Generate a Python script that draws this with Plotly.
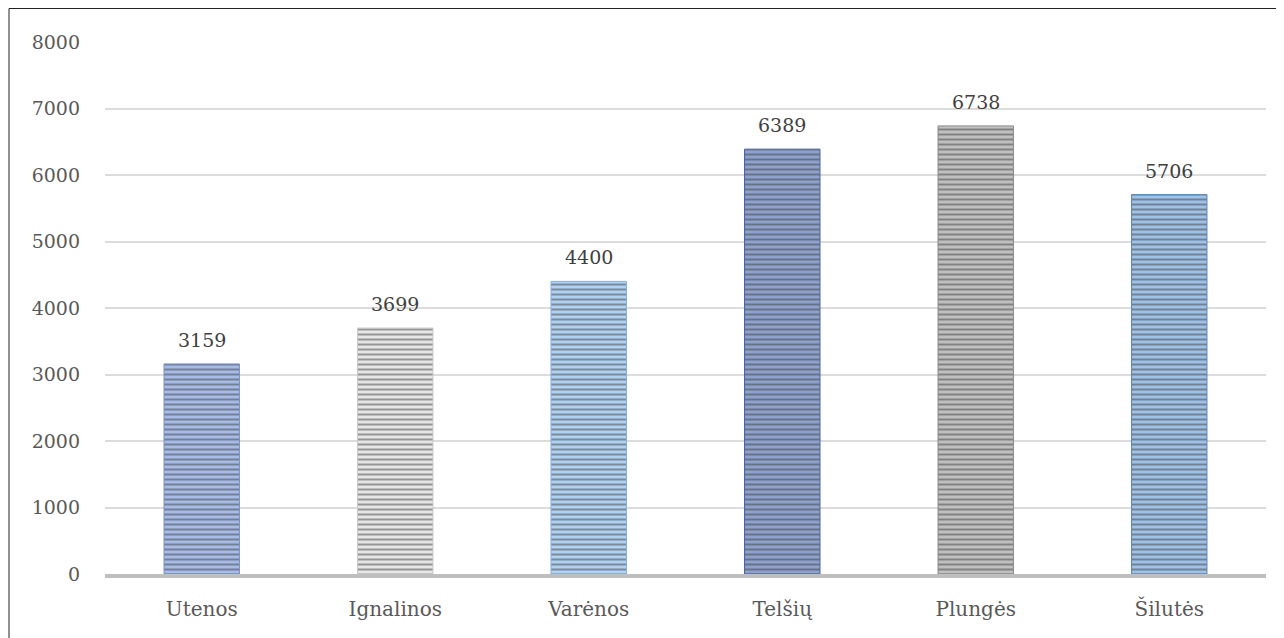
import plotly.graph_objects as go

districts = ["Utenos", "Ignalinos", "Varėnos", "Telšių", "Plungės", "Šilutės"]
counts = [3159, 3699, 4400, 6389, 6738, 5706]

bar_bg = ["#a6bbe6", "#e6e6e6", "#b0d2f2", "#8ea2cc", "#c0c0c0", "#9fc1e5"]
bar_fg = ["#7691cd", "#c9c9c9", "#84aedd", "#4a639a", "#8a8a8a", "#5a87bb"]

# the page body adds 8px around the figure
W, H = 1276, 630
L, R, T, B = 97, 18, 34, 64

fig = go.Figure()
fig.add_trace(go.Bar(
    x=districts, y=counts,
    marker=dict(
        color=bar_bg,
        line=dict(width=1, color=bar_fg),
        pattern=dict(shape="-", size=5, solidity=0.4,
                     fillmode="overlay", fgcolor=bar_fg),
    ),
    hoverinfo="x+y",
))

for d, v in zip(districts, counts):
    fig.add_annotation(x=d, y=v, text=str(v), showarrow=False, yshift=24,
                       font=dict(size=19, color="#404040"))

pw = W - L - R
ph = H - T - B
fig.add_shape(type="rect", xref="paper", yref="paper",
              x0=(1 - L) / pw, x1=(W - 1 - L) / pw,
              y0=-(B + 20) / ph, y1=1 + (T - 0.5) / ph,
              line=dict(color="#222", width=1), layer="below")

fig.update_xaxes(showgrid=False, showline=True, linecolor="#bfbfbf", linewidth=4,
                 ticks="outside", ticklen=14, tickcolor="rgba(0,0,0,0)",
                 tickfont=dict(size=20, color="#595959"))
fig.update_yaxes(range=[0, 8000], dtick=1000, showgrid=True, gridcolor="#dcdcdc",
                 gridwidth=1.5, zeroline=False, ticks="", ticklabelstandoff=24,
                 tickfont=dict(size=19, color="#595959"))

fig.update_layout(
    width=W, height=H,
    margin=dict(l=L, r=R, t=T, b=B),
    paper_bgcolor="white", plot_bgcolor="white",
    font=dict(family="DejaVu Serif, serif"),
    bargap=0.61, showlegend=False,
)

fig.write_html("out.html")
